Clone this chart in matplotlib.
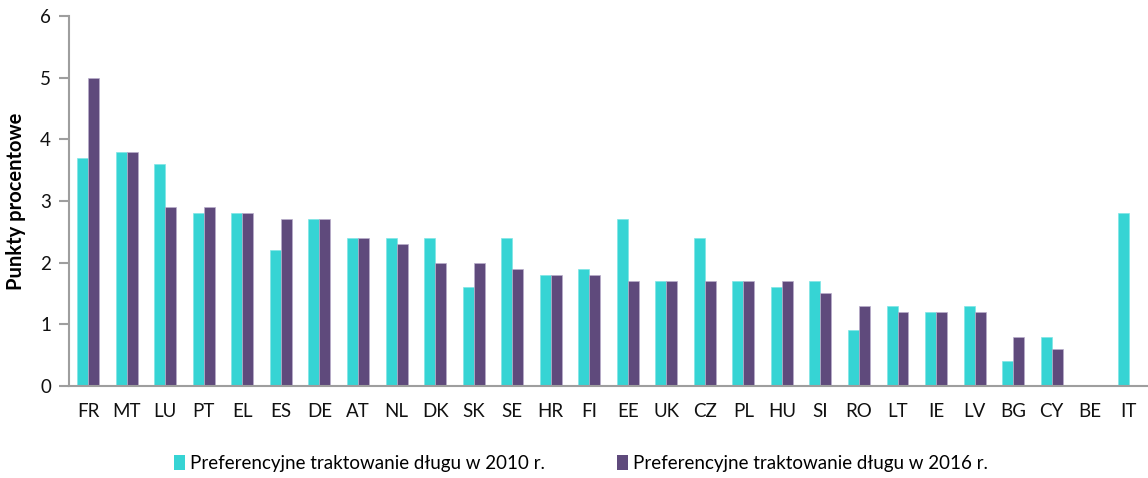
import numpy as np
import matplotlib.pyplot as plt
from matplotlib.patches import Patch

# Country codes and preferential debt treatment (percentage points)
countries = ['FR', 'MT', 'LU', 'PT', 'EL', 'ES', 'DE', 'AT', 'NL', 'DK', 'SK', 'SE', 'HR', 'FI',
             'EE', 'UK', 'CZ', 'PL', 'HU', 'SI', 'RO', 'LT', 'IE', 'LV', 'BG', 'CY', 'BE', 'IT']
values_2010 = [3.7, 3.8, 3.6, 2.8, 2.8, 2.2, 2.7, 2.4, 2.4, 2.4, 1.6, 2.4, 1.8, 1.9,
               2.7, 1.7, 2.4, 1.7, 1.6, 1.7, 0.9, 1.3, 1.2, 1.3, 0.4, 0.8, np.nan, 2.8]
values_2016 = [5.0, 3.8, 2.9, 2.9, 2.8, 2.7, 2.7, 2.4, 2.3, 2.0, 2.0, 1.9, 1.8, 1.8,
               1.7, 1.7, 1.7, 1.7, 1.7, 1.5, 1.3, 1.2, 1.2, 1.2, 0.8, 0.6, np.nan, np.nan]
series_labels = ['Preferencyjne traktowanie długu w 2010 r.',
                 'Preferencyjne traktowanie długu w 2016 r.']

cyan = '#36D4D4'
purple = '#5F4A7C'
axis_grey = '#9E9E9E'

plt.rcParams['font.family'] = ['Lato', 'DejaVu Sans']

fig = plt.figure(figsize=(11.48, 4.78), dpi=100)
ax = fig.add_axes([0.0601, 0.1925, 0.9399, 0.774])

x = np.arange(len(countries))
w = 0.285
ax.bar(x - w / 2, values_2010, width=w, color=cyan, edgecolor='#7FE6E6', linewidth=0.5)
ax.bar(x + w / 2, values_2016, width=w, color=purple, edgecolor='#B9AECB', linewidth=0.5)

ax.set_xlim(-0.5, len(countries) - 0.5)
ax.set_ylim(0, 6)
ax.set_yticks(range(0, 7))
ax.set_xticks(x)
ax.set_xticklabels(countries)

for side in ['top', 'right']:
    ax.spines[side].set_visible(False)
for side in ['left', 'bottom']:
    ax.spines[side].set_color(axis_grey)
    ax.spines[side].set_linewidth(1.5)

ax.tick_params(axis='y', length=7, width=1.5, color=axis_grey, labelsize=13.5, pad=6, labelcolor='#111111')
ax.tick_params(axis='x', length=0, labelsize=13.5, pad=12, labelcolor='#111111')
ax.set_ylabel('Punkty procentowe', fontsize=14.5, fontweight='bold', labelpad=10)

handles = [Patch(facecolor=cyan, label=series_labels[0]),
           Patch(facecolor=purple, label=series_labels[1])]
fig.legend(handles=handles, loc='center', bbox_to_anchor=(0.506, 0.03), ncol=2, frameon=False,
           fontsize=13.5, handlelength=0.6, handleheight=0.8, handletextpad=0.3, columnspacing=3.8)

fig.savefig('out.png', dpi=100)
